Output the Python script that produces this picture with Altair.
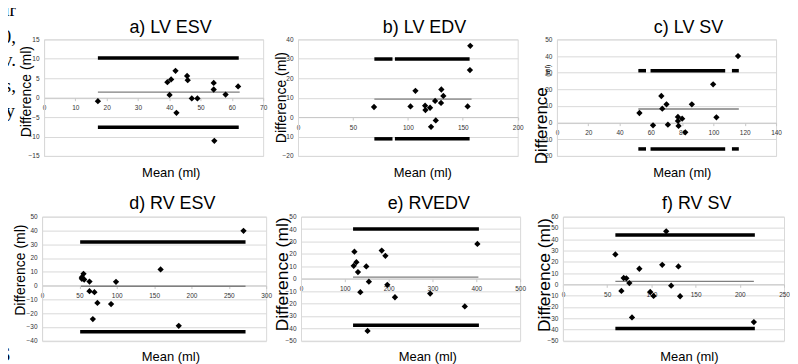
import altair as alt
import pandas as pd

# ---------------- data ----------------
titles = ["a) LV ESV", "b) LV EDV", "c) LV SV", "d) RV ESV", "e) RVEDV", "f) RV SV"]

a_x = [17.2, 39.4, 40.1, 40.6, 42.0, 42.3, 45.7, 45.9, 47.2, 49.0, 54.2, 54.2, 54.4, 58.0, 62.0]
a_y = [-0.9, 4.0, 0.7, 4.7, 6.9, -3.9, 5.6, 4.5, -0.2, -0.2, 3.8, 2.1, -11.1, 0.8, 2.9]
a_mean, a_upper, a_lower = 1.45, 10.2, -7.6
a_seg = [[17.2, 62.2]]
a_mean_x = [17.2, 62.5]
a_xticks = [0, 10, 20, 30, 40, 50, 60, 70]
a_yticks = [-15, -10, -5, 0, 5, 10, 15]

b_x = [69.2, 102.4, 106.9, 115.7, 116.0, 120.2, 121.1, 124.8, 125.4, 130.5, 130.2, 132.3, 154.4, 156.8, 156.5]
b_y = [5.2, 5.5, 13.5, 5.9, 3.6, 4.8, -5.0, 8.3, -1.7, 14.2, 7.3, 10.9, 5.5, 36.7, 24.2]
b_mean, b_upper, b_lower = 9.3, 29.9, -11.2
b_seg = [[69.5, 86.0], [88.2, 156.2]]
b_mean_x = [69.5, 158.0]
b_xticks = [0, 50, 100, 150, 200]
b_yticks = [-20, -10, 0, 10, 20, 30, 40]

c_x = [52.7, 61.4, 66.7, 67.3, 70.0, 70.9, 77.3, 77.3, 77.7, 80.0, 82.0, 86.2, 99.8, 101.9, 115.7]
c_y = [5.8, -1.6, 16.0, 8.4, 11.0, -1.2, 3.4, 1.0, -2.0, 2.4, -5.8, 11.0, 23.0, 3.2, 40.0]
c_mean, c_upper, c_lower = 8.2, 31.2, -15.8
c_seg = [[52.0, 56.9], [59.8, 107.5], [111.8, 116.2]]
c_mean_x = [52.0, 116.2]
c_xticks = [0, 20, 40, 60, 80, 100, 120, 140]
c_yticks = [-20, -10, 0, 10, 20, 30, 40, 50]

d_x = [55.5, 53.3, 53.3, 56.4, 63.5, 63.5, 70.1, 74.1, 68.0, 92.4, 99.0, 158.7, 183.0, 269.7]
d_y = [8.5, 6.1, 4.9, 4.4, 2.9, -4.1, -4.8, -12.6, -24.3, -13.4, 2.7, 11.7, -29.2, 39.7]
d_mean, d_upper, d_lower = -0.5, 31.7, -33.6
d_seg = [[51.0, 272.4]]
d_mean_x = [52.0, 272.4]
d_xticks = [0, 50, 100, 150, 200, 250, 300]
d_yticks = [-40, -30, -20, -10, 0, 10, 20, 30, 40, 50]

e_x = [121.9, 126.4, 120.3, 130.0, 149.0, 135.4, 154.9, 151.9, 184.2, 192.6, 197.0, 214.4, 402.5, 294.8, 373.8]
e_y = [21.8, 13.3, 10.4, 5.3, 9.9, -10.9, -2.4, -42.1, 22.7, 18.4, -5.0, -15.0, 28.0, -12.0, -22.4]
e_mean, e_upper, e_lower = 1.3, 40.0, -37.6
e_seg = [[118.8, 406.0]]
e_mean_x = [118.7, 404.8]
e_xticks = [0, 100, 200, 300, 400, 500]
e_yticks = [-50, -40, -30, -20, -10, 0, 10, 20, 30, 40, 50]

f_x = [59.3, 66.1, 68.7, 71.7, 75.1, 78.1, 86.4, 98.7, 102.5, 112.3, 116.8, 122.4, 130.6, 132.5, 215.9]
f_y = [26.5, -5.9, 5.6, 5.3, 1.1, -29.4, 13.8, -6.8, -10.3, 17.3, 47.0, -1.2, 15.9, -10.6, -33.5]
f_mean, f_upper, f_lower = 2.6, 43.8, -39.1
f_seg = [[59.3, 217.0]]
f_mean_x = [59.3, 215.9]
f_xticks = [0, 50, 100, 150, 200, 250]
f_yticks = [-50, -40, -30, -20, -10, 0, 10, 20, 30, 40, 50, 60]

x_title = "Mean (ml)"
y_title = "Difference (ml)"
side_text = ["ur", "0,", "v.", "s,", "y"]
side_text_bottom = "S"

# ---------------- layout (page pixels) ----------------
ROW1_TOP = 38.3
ROW2_TOP = 216.3
PANELS = {
    # name: (left, top, width, height)
    "a": (43.3, ROW1_TOP, 220, 117),
    "b": (297.7, ROW1_TOP, 220.6, 117),
    "c": (556.7, ROW1_TOP, 220, 117),
    "d": (41.7, ROW2_TOP, 225, 124.5),
    "e": (301.7, ROW2_TOP, 220, 124.5),
    "f": (564.0, ROW2_TOP, 222, 124.5),
}
TITLE_POS = {"a": (170.3, 31.7), "b": (424.7, 31.7), "c": (688.8, 31.7),
             "d": (172.5, 208.3), "e": (430.0, 208.3), "f": (698.3, 208.3)}
XT_POS = {"a": (171, 176.7), "b": (423, 176.7), "c": (682.5, 176.7),
          "d": (171, 361.5), "e": (429, 361.5), "f": (691, 361.5)}
YT_POS = {"a": (25.7, 90.8, 14), "b": (281.7, 96.7, 14), "c": (541.3, 125, 17),
          "d": (20.8, 270, 14), "e": (284, 274.2, 17.5), "f": (546.5, 275, 17.5)}

GRID = "#d9d9d9"
FONT = "Liberation Sans"


def txt(s, x, y, size, angle=0, align="center", baseline="alphabetic", font=FONT):
    return alt.Chart(pd.DataFrame({"t": [s]})).mark_text(
        font=font, fontSize=size, angle=angle, align=align, baseline=baseline, color="black"
    ).encode(text="t:N", x=alt.value(x), y=alt.value(y))


def panel(name, xs, ys, mean, upper, lower, seg, mean_x, xticks, yticks, extra=None):
    left, top, w, h = PANELS[name]
    ymin, ymax = yticks[0], yticks[-1]
    y0 = h * ymax / (ymax - ymin)
    xenc = alt.X("x:Q", scale=alt.Scale(domain=[xticks[0], xticks[-1]], nice=False),
                 axis=alt.Axis(values=xticks, offset=-(h - y0), grid=False, title=None,
                               labelFlush=False, labelOverlap=False, tickSize=3,
                               labelPadding=4, domainColor="#c8c8c8", tickColor="#c8c8c8"))
    yenc = alt.Y("y:Q", scale=alt.Scale(domain=[ymin, ymax], nice=False),
                 axis=alt.Axis(values=yticks, grid=True, title=None, ticks=False,
                               labelPadding=5, domainColor=GRID, gridColor=GRID))
    pts = pd.DataFrame({"x": xs, "y": ys})
    loa_rows = []
    for yv in (upper, lower):
        for s in seg:
            loa_rows.append({"x": s[0], "x2": s[1], "y": yv})
    loa = pd.DataFrame(loa_rows)
    mn = pd.DataFrame({"x": [mean_x[0]], "x2": [mean_x[1]], "y": [mean]})

    layers = [
        alt.Chart(loa).mark_rule(color="black", strokeWidth=3.5).encode(x=xenc, x2="x2:Q", y=yenc),
        alt.Chart(mn).mark_rule(color="#7f7f7f", strokeWidth=1.3).encode(x=xenc, x2="x2:Q", y=yenc),
        alt.Chart(pts).mark_point(shape="diamond", filled=True, color="black", size=40, opacity=1)
        .encode(x=xenc, y=yenc),
    ]
    tx, ty = TITLE_POS[name]
    layers.append(txt(titles["abcdef".index(name)], tx - left, ty - top, 18))
    mx, my = XT_POS[name]
    layers.append(txt(x_title, mx - left, my - top, 13))
    yx, yy, ys_ = YT_POS[name]
    if name == "c":
        layers.append(txt("Difference", yx - left, yy - top, ys_, angle=270, baseline="middle"))
        layers.append(txt("(ml)", 547.5 - left, 69.7 - top, 7, angle=270, baseline="middle"))
    else:
        layers.append(txt(y_title, yx - left, yy - top, ys_, angle=270, baseline="middle"))
    if extra:
        layers += extra(left, top)
    return alt.layer(*layers).properties(width=w, height=h,
                                         view=alt.ViewBackground(stroke=GRID, strokeWidth=1))


def side_a(left, top):
    pos = [(15, 15), (15, 42), (15, 65), (15, 91), (14, 116)]
    return [txt(s, px - left, py - top, 19, align="right", font="Liberation Serif")
            for s, (px, py) in zip(side_text, pos)]


def side_d(left, top):
    return [txt(side_text_bottom, 10 - left, 361 - top, 19, align="right", font="Liberation Serif")]


def spacer(w):
    return alt.Chart(pd.DataFrame({"v": [0]})).mark_point(opacity=0, size=1).encode(
        x=alt.value(0), y=alt.value(0)
    ).properties(width=w, height=1, view=alt.ViewBackground(stroke="transparent"))


pa = panel("a", a_x, a_y, a_mean, a_upper, a_lower, a_seg, a_mean_x, a_xticks, a_yticks, side_a)
pb = panel("b", b_x, b_y, b_mean, b_upper, b_lower, b_seg, b_mean_x, b_xticks, b_yticks)
pc = panel("c", c_x, c_y, c_mean, c_upper, c_lower, c_seg, c_mean_x, c_xticks, c_yticks)
pd_ = panel("d", d_x, d_y, d_mean, d_upper, d_lower, d_seg, d_mean_x, d_xticks, d_yticks, side_d)
pe = panel("e", e_x, e_y, e_mean, e_upper, e_lower, e_seg, e_mean_x, e_xticks, e_yticks)
pf = panel("f", f_x, f_y, f_mean, f_upper, f_lower, f_seg, f_mean_x, f_xticks, f_yticks)

row1 = alt.hconcat(spacer(1.6), pa, spacer(34.4), pb, spacer(38.4), pc, spacing=0, bounds="flush")
row2 = alt.hconcat(pd_, spacer(35), pe, spacer(42.3), pf, spacing=0, bounds="flush")

# nested rows count as zero-height cells in a flush layout, so the spacing
# is the full distance between the two rows' plot tops
chart = alt.vconcat(row1, row2, spacing=ROW2_TOP - ROW1_TOP, bounds="flush").properties(
    padding={"left": -8.8, "top": -8.2, "right": 0, "bottom": 0},
    background="white",
).configure_axis(
    labelFont=FONT, labelFontSize=6.5, labelColor="#333333",
).configure_view(stroke=GRID)

chart.save("out.html", embed_options={"renderer": "svg", "actions": False})
